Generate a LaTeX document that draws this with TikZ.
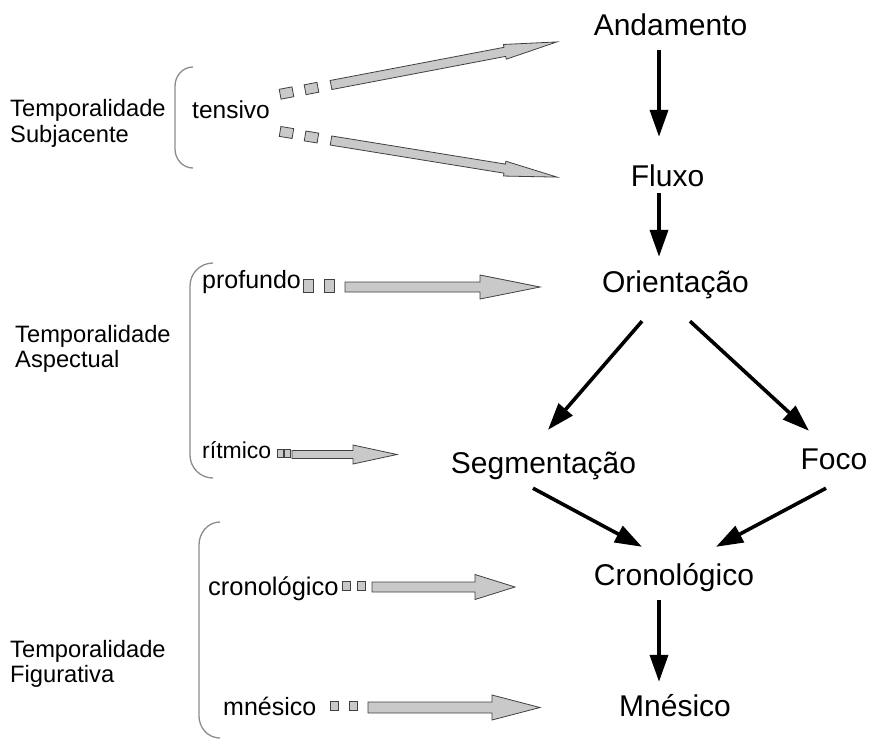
\documentclass[tikz,border=0pt]{standalone}
\usepackage{fontspec}
\setmainfont{Liberation Sans}
\usetikzlibrary{arrows.meta,calc}
\tikzset{
 main/.style={anchor=base,inner sep=0pt,font=\fontsize{30}{36}\selectfont,text height=22pt,text depth=7pt},
 lbl/.style={anchor=base west,inner sep=0pt,font=\fontsize{24.5}{29}\selectfont},
 side/.style={anchor=base west,inner sep=0pt,font=\fontsize{23.7}{28}\selectfont},
 blk/.style={line width=3.6pt,-{Triangle[length=27pt,width=18pt]}},
 bracket/.style={draw=black!45,line width=1.3pt},
 gbody/.style={fill=black!21,draw=black!75,line width=0.8pt,line join=miter},
}
\newcommand\garrow[7]{%
 \begin{scope}[shift={(#1,#2)},rotate=#3]
 \draw[gbody] (0,#5) -- ({#4-#7},#5) -- ({#4-#7},#6) -- (#4,0) -- ({#4-#7},-#6) -- ({#4-#7},-#5) -- (0,-#5) -- cycle;
 \end{scope}}
\newcommand\gsq[5]{%
 \draw[gbody,shift={(#1,#2)},rotate=#3] (-#4,-#5) rectangle (#4,#5);}
\begin{document}
\begin{tikzpicture}[x=1pt,y=-1pt]
\useasboundingbox (0,0) rectangle (872,740);
% main nodes
\node[main] (A) at (670.5,35) {Andamento};
\node[main] (F) at (667.5,186) {Fluxo};
\node[main] (O) at (675.5,292) {Orientação};
\node[main] (S) at (543.5,473) {Segmentação};
\node[main] (Fo) at (834,469) {Foco};
\node[main] (C) at (674,585) {Cronológico};
\node[main] (M) at (675,716) {Mnésico};
% black connectors
\coordinate (colx) at (659,0);
\draw[blk,shorten <=8pt,shorten >=27pt] (A.south -| colx) -- (F.north -| colx);
\draw[blk,shorten >=13pt] (F.south -| colx) -- (O.north -| colx);
\draw[blk] ($(O.south)+(-33.5,22)$) -- ($(S.north)+(4.5,-21)$);
\draw[blk] ($(O.south)+(14.5,22)$) -- ($(Fo.north)+(-25,-16)$);
\draw[blk] ($(S.south)+(-10.5,8)$) -- ($(C.north)+(-32,-16)$);
\draw[blk] ($(Fo.south)+(-8,12)$) -- ($(C.north)+(42,-16)$);
\draw[blk,shorten <=8pt,shorten >=12pt] (C.south -| colx) -- (M.north -| colx);
% side labels
\node[side] (s1a) at (10,116) {Temporalidade};
\node[side] (s1b) at (10,142) {Subjacente};
\node[side] (s2a) at (15,342) {Temporalidade};
\node[side] (s2b) at (15,367) {Aspectual};
\node[side] (s3a) at (10,657) {Temporalidade};
\node[side] (s3b) at (10,682) {Figurativa};
% brackets
\draw[bracket] (193,67) to[out=180,in=90] (175,86) -- (175,149) to[out=-90,in=180] (193,168);
\draw[bracket] (213,263) to[out=180,in=90] (190,286) -- (190,455) to[out=-90,in=180] (213,478);
\draw[bracket] (220,522) to[out=180,in=90] (199,545) -- (199,716) to[out=-90,in=180] (220,738);
% inner labels
\node[lbl] (ten) at (192,118) {tensivo};
\node[lbl,font=\fontsize{25}{30}\selectfont] (pro) at (202,288) {profundo};
\node[lbl,font=\fontsize{23}{28}\selectfont] (rit) at (202,458) {rítmico};
\node[lbl,font=\fontsize{25.5}{30}\selectfont] (cro) at (208,595) {cronológico};
\node[lbl,font=\fontsize{25}{30}\selectfont] (mne) at (223,715) {mnésico};
% gray arrows
\garrow{331}{85}{10.8}{230}{4.6}{7.5}{53}
\gsq{286.5}{93}{10.8}{6.5}{5}
\gsq{311.5}{88.5}{10.8}{6.5}{5}
\garrow{331}{140.5}{-9.2}{229}{4.6}{7.5}{53}
\gsq{286.5}{132.5}{-9.2}{6.5}{5}
\gsq{311.5}{137}{-9.2}{6.5}{5}
\garrow{345}{287}{0}{195}{5}{12}{60}
\gsq{308}{286}{0}{5}{6.5}
\gsq{329}{286}{0}{5}{6.5}
\garrow{292}{454.5}{0}{105}{4}{9.5}{44}
\gsq{280}{453.5}{0}{3}{4}
\gsq{287}{453.5}{0}{3}{4}
\garrow{372}{587}{0}{143}{5}{12.5}{40}
\gsq{346}{586}{0}{4}{4.5}
\gsq{361}{586}{0}{4}{4.5}
\garrow{368}{707.5}{0}{172}{5.5}{12.5}{48}
\gsq{334}{706}{0}{4}{4.5}
\gsq{353}{706}{0}{4}{4.5}
\end{tikzpicture}
\end{document}
